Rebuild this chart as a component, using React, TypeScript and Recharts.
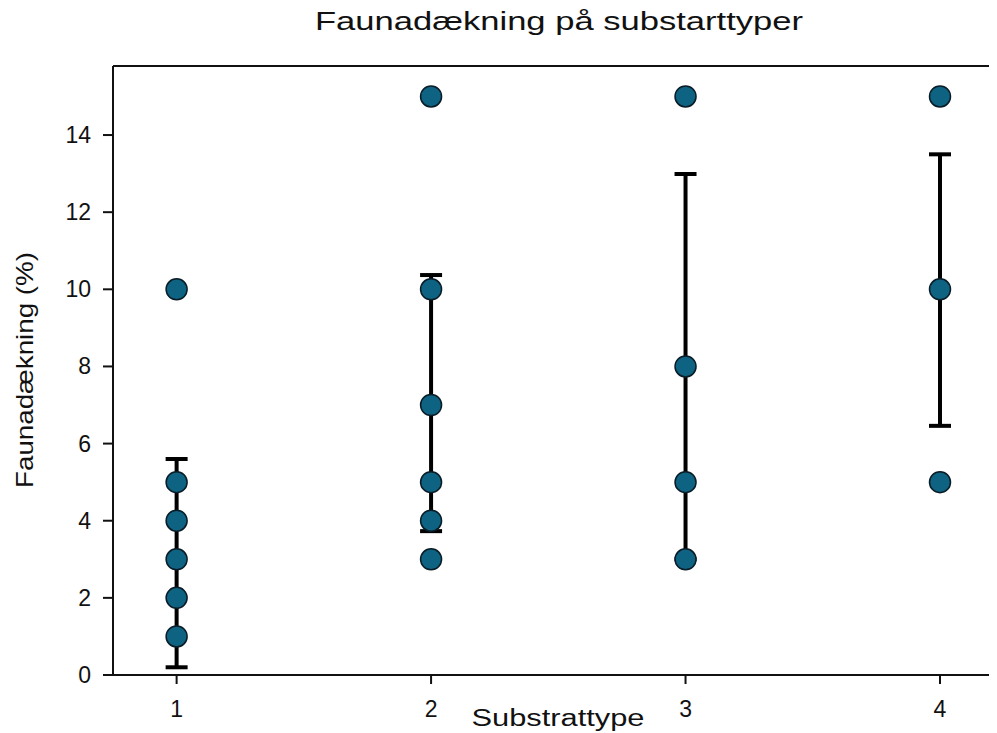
import React from 'react';
import { ScatterChart, Scatter, XAxis, YAxis, ErrorBar, Customized, ReferenceLine } from 'recharts';

const categories = [1, 2, 3, 4];
const valuesType1 = [10, 5, 4, 3, 2, 1];
const valuesType2 = [15, 10, 7, 5, 4, 3];
const valuesType3 = [15, 8, 5, 3];
const valuesType4 = [15, 10, 5];
const errLow = [0.2, 3.73, 3.0, 6.46];
const errHigh = [5.6, 10.37, 12.99, 13.5];
const xTicks = [1, 2, 3, 4];
const yTicks = [0, 2, 4, 6, 8, 10, 12, 14];

const title = 'Faunadækning på substarttyper';
const xLabel = 'Substrattype';
const yLabel = 'Faunadækning (%)';

const allValues = [valuesType1, valuesType2, valuesType3, valuesType4];
const pointData = categories.flatMap((c, i) => allValues[i].map((v) => ({ x: c, y: v })));
const errData = categories.map((c, i) => {
  const mid = (errLow[i] + errHigh[i]) / 2;
  return { x: c, y: mid, err: [mid - errLow[i], errHigh[i] - mid] };
});

const FONT = '"Liberation Sans", Arial, sans-serif';
const Y_MAX = 15.79;

const Texts = () => (
  <g fontFamily={FONT} fill="#111">
    <text x={551} y={22} fontSize={25} textAnchor="middle" textLength={488} lengthAdjust="spacingAndGlyphs">{title}</text>
    <text x={550} y={718} fontSize={23} textAnchor="middle" textLength={173} lengthAdjust="spacingAndGlyphs">{xLabel}</text>
    <text transform="translate(25,362) rotate(-90)" fontSize={24} textAnchor="middle" textLength={236} lengthAdjust="spacingAndGlyphs">{yLabel}</text>
  </g>
);

const XTick = (props: any) => {
  const { x, y, payload } = props;
  return (
    <text x={x} y={y} dy={15} textAnchor="middle" fontSize={23} fontFamily={FONT} fill="#111">
      {payload.value}
    </text>
  );
};

const YTick = (props: any) => {
  const { x, y, payload } = props;
  return (
    <text x={x} y={y} dy={8} textAnchor="end" fontSize={23} fontFamily={FONT} fill="#111">
      {payload.value}
    </text>
  );
};

const Dot = (props: any) => {
  const { cx, cy } = props;
  if (cx == null || cy == null) return <g />;
  return <circle cx={cx} cy={cy} r={10.5} fill="#0E6282" stroke="#0a1c26" strokeWidth={1.5} />;
};

export default function App() {
  return (
    <ScatterChart width={989} height={725} margin={{ top: 58, right: 0, bottom: 0, left: 0 }}>
      <XAxis
        type="number"
        dataKey="x"
        domain={[0.75, 4.224]}
        allowDataOverflow
        ticks={xTicks}
        height={58}
        tickSize={9}
        tickMargin={18}
        tick={XTick}
        tickLine={{ stroke: '#111', strokeWidth: 2 }}
        axisLine={{ stroke: '#111', strokeWidth: 2 }}
      />
      <YAxis
        type="number"
        dataKey="y"
        domain={[0, Y_MAX]}
        allowDataOverflow
        ticks={yTicks}
        width={105}
        tickSize={10}
        tickMargin={12}
        tick={YTick}
        tickLine={{ stroke: '#111', strokeWidth: 2 }}
        axisLine={{ stroke: '#111', strokeWidth: 2 }}
      />
      <ReferenceLine y={Y_MAX} stroke="#111" strokeWidth={2} />
      <Scatter data={errData} isAnimationActive={false} shape={() => <g />}>
        <ErrorBar dataKey="err" direction="y" width={11} strokeWidth={4} stroke="#000" isAnimationActive={false} />
      </Scatter>
      <Scatter data={pointData} isAnimationActive={false} shape={Dot} />
      <Customized component={Texts} />
    </ScatterChart>
  );
}
